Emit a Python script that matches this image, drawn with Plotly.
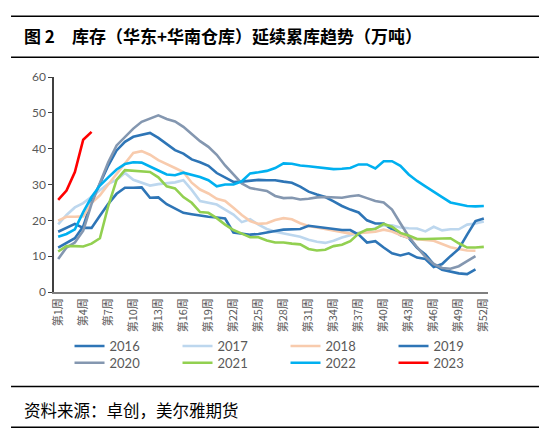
import plotly.graph_objects as go

weeks = ["第1周", "第2周", "第3周", "第4周", "第5周", "第6周", "第7周", "第8周", "第9周", "第10周",
         "第11周", "第12周", "第13周", "第14周", "第15周", "第16周", "第17周", "第18周", "第19周", "第20周",
         "第21周", "第22周", "第23周", "第24周", "第25周", "第26周", "第27周", "第28周", "第29周", "第30周",
         "第31周", "第32周", "第33周", "第34周", "第35周", "第36周", "第37周", "第38周", "第39周", "第40周",
         "第41周", "第42周", "第43周", "第44周", "第45周", "第46周", "第47周", "第48周", "第49周", "第50周",
         "第51周", "第52周"]
tick_labels = ["第1周", "第4周", "第7周", "第10周", "第13周", "第16周", "第19周", "第22周", "第25周",
               "第28周", "第31周", "第34周", "第37周", "第40周", "第43周", "第46周", "第49周", "第52周"]

y2016 = [12.4, 13.6, 15.0, 18.3, 25.2, 30.2, 35.3, 39.5, 41.9, 43.3, 43.9, 44.4, 43.0, 41.4, 39.6, 38.6,
         37.0, 36.2, 35.2, 33.2, 32.0, 30.7, 30.8, 31.0, 31.3, 31.2, 31.2, 30.8, 30.5, 29.4, 28.0, 27.2,
         26.5, 25.3, 24.0, 23.0, 22.2, 20.0, 19.1, 19.1, 17.4, 15.9, 15.1, 12.3, 10.5, 7.7, 6.2, 5.6,
         5.2, 5.0, 6.3]
y2017 = [18.9, 21.5, 23.6, 24.8, 26.6, 28.5, 30.2, 31.3, 33.2, 31.3, 30.5, 29.7, 30.1, 30.4, 30.6, 31.2,
         28.5, 25.4, 24.9, 24.4, 23.0, 21.6, 19.5, 20.3, 18.8, 17.6, 16.8, 16.3, 15.9, 15.4, 14.6, 14.0,
         13.7, 14.3, 15.2, 15.9, 16.5, 17.0, 17.8, 18.6, 18.6, 18.0, 17.8, 17.7, 16.9, 18.2, 17.2, 17.5,
         17.5, 18.8, 19.1, 19.7]
y2018 = [19.9, 21.0, 21.0, 21.1, 24.8, 27.0, 30.0, 33.0, 35.8, 38.8, 39.3, 38.3, 36.8, 35.6, 34.6, 33.5,
         30.5, 28.6, 27.5, 26.0, 25.4, 23.5, 21.5, 19.8, 19.0, 19.2, 20.1, 20.6, 20.3, 19.2, 18.4, 18.0,
         17.6, 17.2, 16.7, 16.3, 16.4, 16.5, 16.8, 17.4, 16.9, 15.9, 15.1, 14.7, 14.5, 14.3, 13.4, 12.5,
         12.0, 11.6, 11.5]
y2019 = [16.8, 18.0, 19.0, 17.9, 17.9, 21.3, 24.6, 27.4, 29.1, 29.1, 29.2, 26.3, 26.4, 24.5, 23.4, 22.1,
         21.7, 21.3, 21.0, 20.8, 20.5, 16.6, 16.3, 16.0, 16.2, 16.5, 17.0, 17.4, 17.6, 17.6, 18.5, 18.2,
         18.0, 17.6, 17.3, 17.3, 16.0, 13.8, 14.2, 12.4, 10.8, 10.2, 10.8, 9.6, 9.2, 7.0, 7.8, 10.0,
         12.0, 16.0, 19.8, 20.5]
y2020 = [9.2, 12.4, 13.8, 17.1, 24.6, 30.6, 36.2, 40.9, 43.3, 45.6, 47.5, 48.4, 49.3, 48.3, 47.6, 46.1,
         44.2, 42.1, 40.5, 38.3, 35.3, 32.7, 30.3, 29.0, 28.6, 28.2, 26.8, 26.2, 26.3, 25.8, 26.0, 26.4,
         26.5, 26.3, 26.3, 26.7, 27.0, 26.2, 25.4, 25.0, 23.0, 19.2, 15.5, 12.5, 9.8, 7.8, 6.7, 6.5,
         7.2, 8.6, 10.0]
y2021 = [11.3, 12.8, 12.8, 12.7, 13.5, 15.0, 24.0, 31.3, 34.0, 33.9, 33.7, 33.5, 32.0, 29.5, 28.9, 26.5,
         24.9, 22.3, 22.1, 20.6, 18.8, 17.3, 16.3, 15.3, 15.3, 14.4, 13.8, 13.8, 13.5, 13.3, 12.0, 11.6,
         11.8, 12.8, 13.2, 14.2, 16.3, 17.4, 17.6, 19.0, 18.2, 16.5, 15.8, 14.8, 14.8, 14.9, 15.0, 15.0,
         13.6, 12.4, 12.4, 12.6]
y2022 = [15.4, 16.2, 17.5, 22.3, 26.5, 29.7, 32.0, 34.2, 35.7, 36.2, 36.1, 35.1, 33.9, 32.8, 32.6, 33.3,
         32.7, 32.1, 31.2, 29.5, 30.0, 30.0, 30.9, 33.1, 33.4, 33.8, 34.6, 35.9, 35.8, 35.3, 35.1, 34.9,
         34.5, 34.3, 34.4, 34.6, 35.6, 35.6, 34.5, 36.5, 36.5, 35.2, 32.8, 31.0, 29.5, 28.1, 26.5, 25.0,
         24.6, 24.0, 23.9, 24.0]
y2023 = [25.7, 28.3, 33.5, 42.5, 44.7]

series = [
    ("2016", y2016, "#2E75B6", "legend"),
    ("2017", y2017, "#BDD7EE", "legend"),
    ("2018", y2018, "#F8CBAD", "legend"),
    ("2019", y2019, "#2E75B6", "legend"),
    ("2020", y2020, "#8497B0", "legend2"),
    ("2021", y2021, "#92D050", "legend2"),
    ("2022", y2022, "#00B0F0", "legend2"),
    ("2023", y2023, "#FF0000", "legend2"),
]

fig = go.Figure()
for name, vals, color, lg in series:
    fig.add_trace(go.Scatter(
        x=weeks[:len(vals)], y=vals, name=name, mode="lines",
        line=dict(color=color, width=2.6), legend=lg,
    ))

FONT = "Lato, 'Noto Sans CJK SC', sans-serif"
CJK = "'Noto Sans CJK SC', sans-serif"

W, H = 542, 429  # page body adds an 8px offset

legend_common = dict(
    orientation="h", xref="container", yref="container",
    x=0.1135, xanchor="left", yanchor="top",
    entrywidth=63, entrywidthmode="pixels",
    font=dict(size=13, color="#595959", family=FONT),
    itemwidth=30, tracegroupgap=0, bgcolor="rgba(0,0,0,0)",
)

fig.update_layout(
    width=W, height=H,
    margin=dict(l=46, r=62, t=69, b=145, autoexpand=False),
    paper_bgcolor="white", plot_bgcolor="white",
    font=dict(family=FONT, color="#595959", size=12),
    showlegend=True,
    legend=dict(legend_common, y=0.247),
    legend2=dict(legend_common, y=0.208),
    xaxis=dict(
        type="category", categoryorder="array", categoryarray=weeks,
        range=[-0.5, 51.5], automargin=False,
        tickmode="array", tickvals=tick_labels, ticktext=tick_labels,
        tickangle=-90, tickfont=dict(size=11, color="#595959", family=CJK),
        showline=True, linecolor="#7F7F7F", linewidth=1.5,
        showgrid=False, ticks="", zeroline=False,
    ),
    yaxis=dict(
        range=[0, 60], dtick=10, tickmode="linear", automargin=False,
        showline=True, linecolor="#404040", linewidth=1.5,
        ticks="outside", ticklen=4, tickcolor="#404040", tickwidth=1,
        showgrid=False, zeroline=False,
        tickfont=dict(size=12, color="#595959", family=FONT),
    ),
)

# decorative frame lines for title and source blocks
for yy in [1.282, 1.0915, -0.440, -0.629]:
    fig.add_shape(type="line", xref="paper", yref="paper",
                  x0=-0.099, x1=1.1175, y0=yy, y1=yy,
                  line=dict(color="black", width=1.5))

fig.add_annotation(
    xref="paper", yref="paper", x=-0.0737, y=1.191, xanchor="left", yanchor="middle",
    text="<b>图 2　库存（华东+华南仓库）延续累库趋势（万吨）</b>",
    showarrow=False, font=dict(family=CJK, size=17, color="black"),
)
fig.add_annotation(
    xref="paper", yref="paper", x=-0.0737, y=-0.547, xanchor="left", yanchor="middle",
    text="资料来源：卓创，美尔雅期货",
    showarrow=False, font=dict(family=CJK, size=16.5, color="black"),
)

fig.write_html("out.html")
